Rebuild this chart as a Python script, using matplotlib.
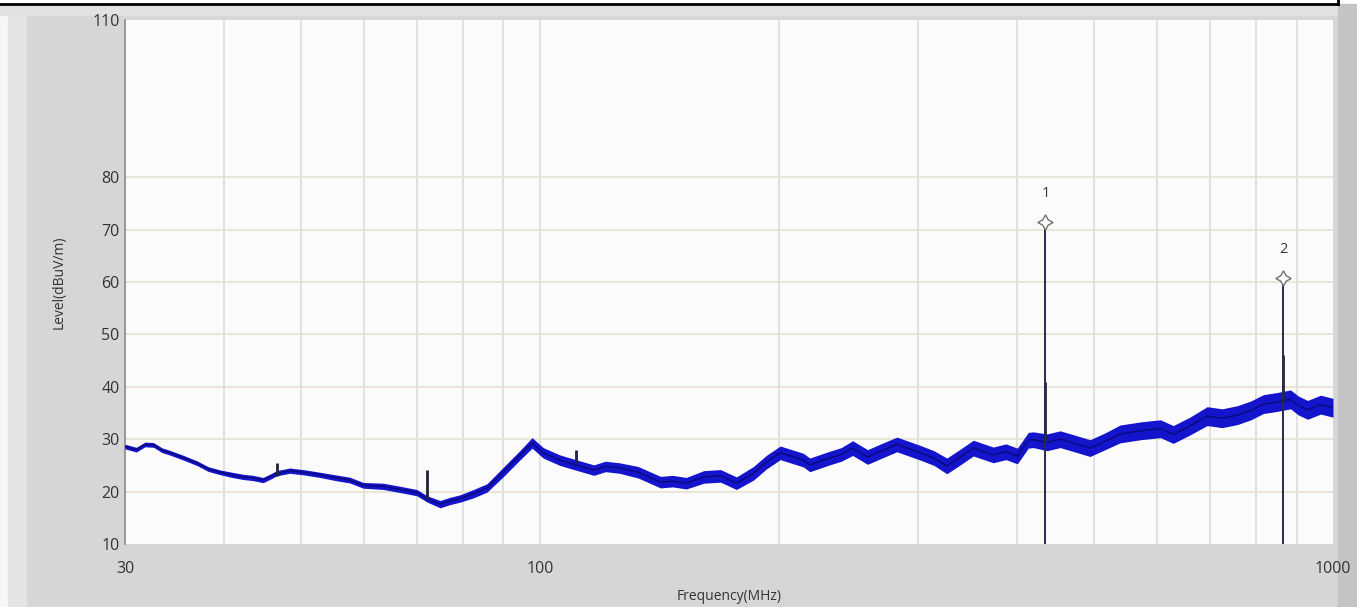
import numpy as np
import matplotlib.pyplot as plt
from matplotlib.patches import Rectangle
from matplotlib.lines import Line2D

# trace: frequency (MHz), level (dBuV/m), half band width
freq = [30.0, 31.0, 31.8, 32.6, 33.4, 34.2, 35.5, 37.0, 38.2, 39.5, 40.9, 42.3, 43.5,
        44.8, 45.8, 46.6, 48.4, 50.3, 52.8, 55.5, 57.6, 59.9, 63.5, 67.3, 70.0, 72.1,
        74.9, 77.0, 79.4, 82.5, 85.8, 89.9, 94.5, 97.8, 101, 106, 111, 117, 121,
        126, 133, 142, 147, 153, 161, 169, 177, 186, 193, 201, 215, 219, 232, 240,
        248, 259, 270, 282, 302, 314, 326, 339, 352, 373, 387, 400, 413, 419, 436,
        453, 472, 494, 516, 539, 572, 606, 629, 660, 694, 725, 758, 788, 817, 850,
        884, 905, 929, 965, 1000]
level = [28.6, 28.0, 29.0, 28.9, 27.9, 27.4, 26.5, 25.4, 24.3, 23.7, 23.2, 22.8, 22.6,
         22.2, 22.9, 23.5, 24.0, 23.7, 23.2, 22.6, 22.2, 21.2, 21.0, 20.3, 19.8, 18.6,
         17.6, 18.2, 18.7, 19.6, 20.7, 23.7, 27.0, 29.3, 27.4, 26.0, 25.1, 24.1, 24.8,
         24.5, 23.7, 21.8, 22.0, 21.6, 22.8, 23.0, 21.6, 23.5, 25.6, 27.4, 26.0, 25.1,
         26.4, 27.1, 28.3, 26.6, 27.8, 29.0, 27.4, 26.4, 24.9, 26.6, 28.3, 27.0, 27.6,
         26.8, 29.8, 29.9, 29.4, 30.0, 29.2, 28.3, 29.6, 31.0, 31.6, 32.0, 30.9, 32.5,
         34.4, 34.0, 34.6, 35.5, 36.7, 37.1, 37.6, 36.4, 35.6, 36.6, 36.0]
halfw = [0.45, 0.45, 0.45, 0.45, 0.45, 0.45, 0.45, 0.45, 0.45, 0.45, 0.5, 0.5, 0.5,
         0.5, 0.5, 0.5, 0.5, 0.5, 0.5, 0.55, 0.55, 0.55, 0.6, 0.6, 0.6, 0.6,
         0.7, 0.7, 0.7, 0.8, 0.8, 0.9, 0.9, 1.0, 1.0, 1.0, 1.0, 1.0, 1.0,
         1.0, 1.1, 1.1, 1.1, 1.1, 1.2, 1.2, 1.2, 1.3, 1.3, 1.3, 1.3, 1.3, 1.3, 1.3,
         1.4, 1.4, 1.4, 1.4, 1.4, 1.4, 1.5, 1.5, 1.5, 1.5, 1.5, 1.5, 1.5, 1.5, 1.6,
         1.6, 1.6, 1.6, 1.6, 1.7, 1.7, 1.7, 1.7, 1.7, 1.8, 1.8, 1.8, 1.8, 1.8, 1.8,
         1.8, 1.8, 1.8, 1.8, 1.8]

# narrow spikes on the trace
spike_freq = [46.6, 72.1, 111, 434, 866]
spike_base = [23.0, 18.6, 25.5, 29.5, 37.0]
spike_top = [25.4, 24.1, 28.0, 41.0, 46.0]

# markers
mark_id = ["1", "2"]
mark_freq = [434, 866]
mark_level = [71.4, 60.7]

yticks = [10, 20, 30, 40, 50, 60, 70, 80, 110]
xticks = [30, 100, 1000]
xgrid = [40, 50, 60, 70, 80, 90, 100, 200, 300, 400, 500, 600, 700, 800, 900]

plt.rcParams['font.family'] = ['Open Sans', 'DejaVu Sans']

fig = plt.figure(figsize=(13.57, 6.07), dpi=100)
fig.patch.set_facecolor("#d6d6d6")

# window frame bits around the grey panel
fig.add_artist(Rectangle((0, 0), 0.006, 1, transform=fig.transFigure, color="#f7f7f7", zorder=0))
fig.add_artist(Rectangle((0.006, 0), 0.013, 1, transform=fig.transFigure, color="#e4e4e4", zorder=0))
fig.add_artist(Rectangle((0, 0.975), 0.986, 0.025, transform=fig.transFigure, color="#e2e2e2", zorder=0))
fig.add_artist(Rectangle((0, 0.993), 1, 0.007, transform=fig.transFigure, color="white", zorder=0))
fig.add_artist(Rectangle((0.986, 0), 0.014, 0.993, transform=fig.transFigure, color="#c4c4c4", zorder=0))
fig.add_artist(Line2D([0, 0.986], [0.993, 0.993], transform=fig.transFigure, color="black", lw=2))
fig.add_artist(Line2D([0.986, 0.986], [0.993, 1.0], transform=fig.transFigure, color="black", lw=2))

ax = fig.add_axes([0.0921, 0.1038, 0.8902, 0.8632])
ax.set_facecolor("#fbfbfb")
ax.set_xscale("log")
ax.set_xlim(30, 1000)
ax.set_ylim(10, 110)

for g in xgrid:
    ax.axvline(g, color="#dcdcdc", lw=1.2, zorder=1)
for t in yticks[1:-1]:
    ax.axhline(t, color="#e6e2d2", lw=1.2, zorder=1)

f = np.array(freq)
l = np.array(level)
h = np.array(halfw)
ax.fill_between(f, l - h, l + h, color="#1414cc", lw=0, zorder=3)
ax.plot(f, l, color="#0a0a80", lw=1.1, zorder=4)

ax.vlines(spike_freq, spike_base, spike_top, color="#202040", lw=2.0, zorder=5)
ax.vlines(mark_freq, 10, mark_level, color="#2a2a4a", lw=1.4, zorder=5)
ax.plot(mark_freq, mark_level, ls="none", marker=(4, 1, 0), ms=11, mfc="white",
        mec="#707070", mew=1.0, zorder=6)
for i in range(len(mark_id)):
    ax.annotate(mark_id[i], (mark_freq[i], mark_level[i]), xytext=(0, 21),
                textcoords="offset points", ha="center", va="center",
                fontsize=10.5, color="#383838")

ax.set_yticks(yticks)
ax.set_xticks(xticks)
ax.set_xticklabels([str(x) for x in xticks])
ax.minorticks_off()
ax.tick_params(axis="both", length=0, labelsize=11.5, labelcolor="#333333")
ax.tick_params(axis="x", pad=12)
ax.tick_params(axis="y", pad=4)

for s in ["top", "right", "bottom"]:
    ax.spines[s].set_visible(False)
ax.spines["left"].set_color("#8a8a8a")
ax.spines["left"].set_linewidth(1.2)

ax.set_xlabel("Frequency(MHz)", fontsize=10, color="#333333", labelpad=9)
ax.set_ylabel("Level(dBuV/m)", fontsize=10, color="#333333", labelpad=18)

plt.savefig("out.png", dpi=100, facecolor=fig.get_facecolor())
